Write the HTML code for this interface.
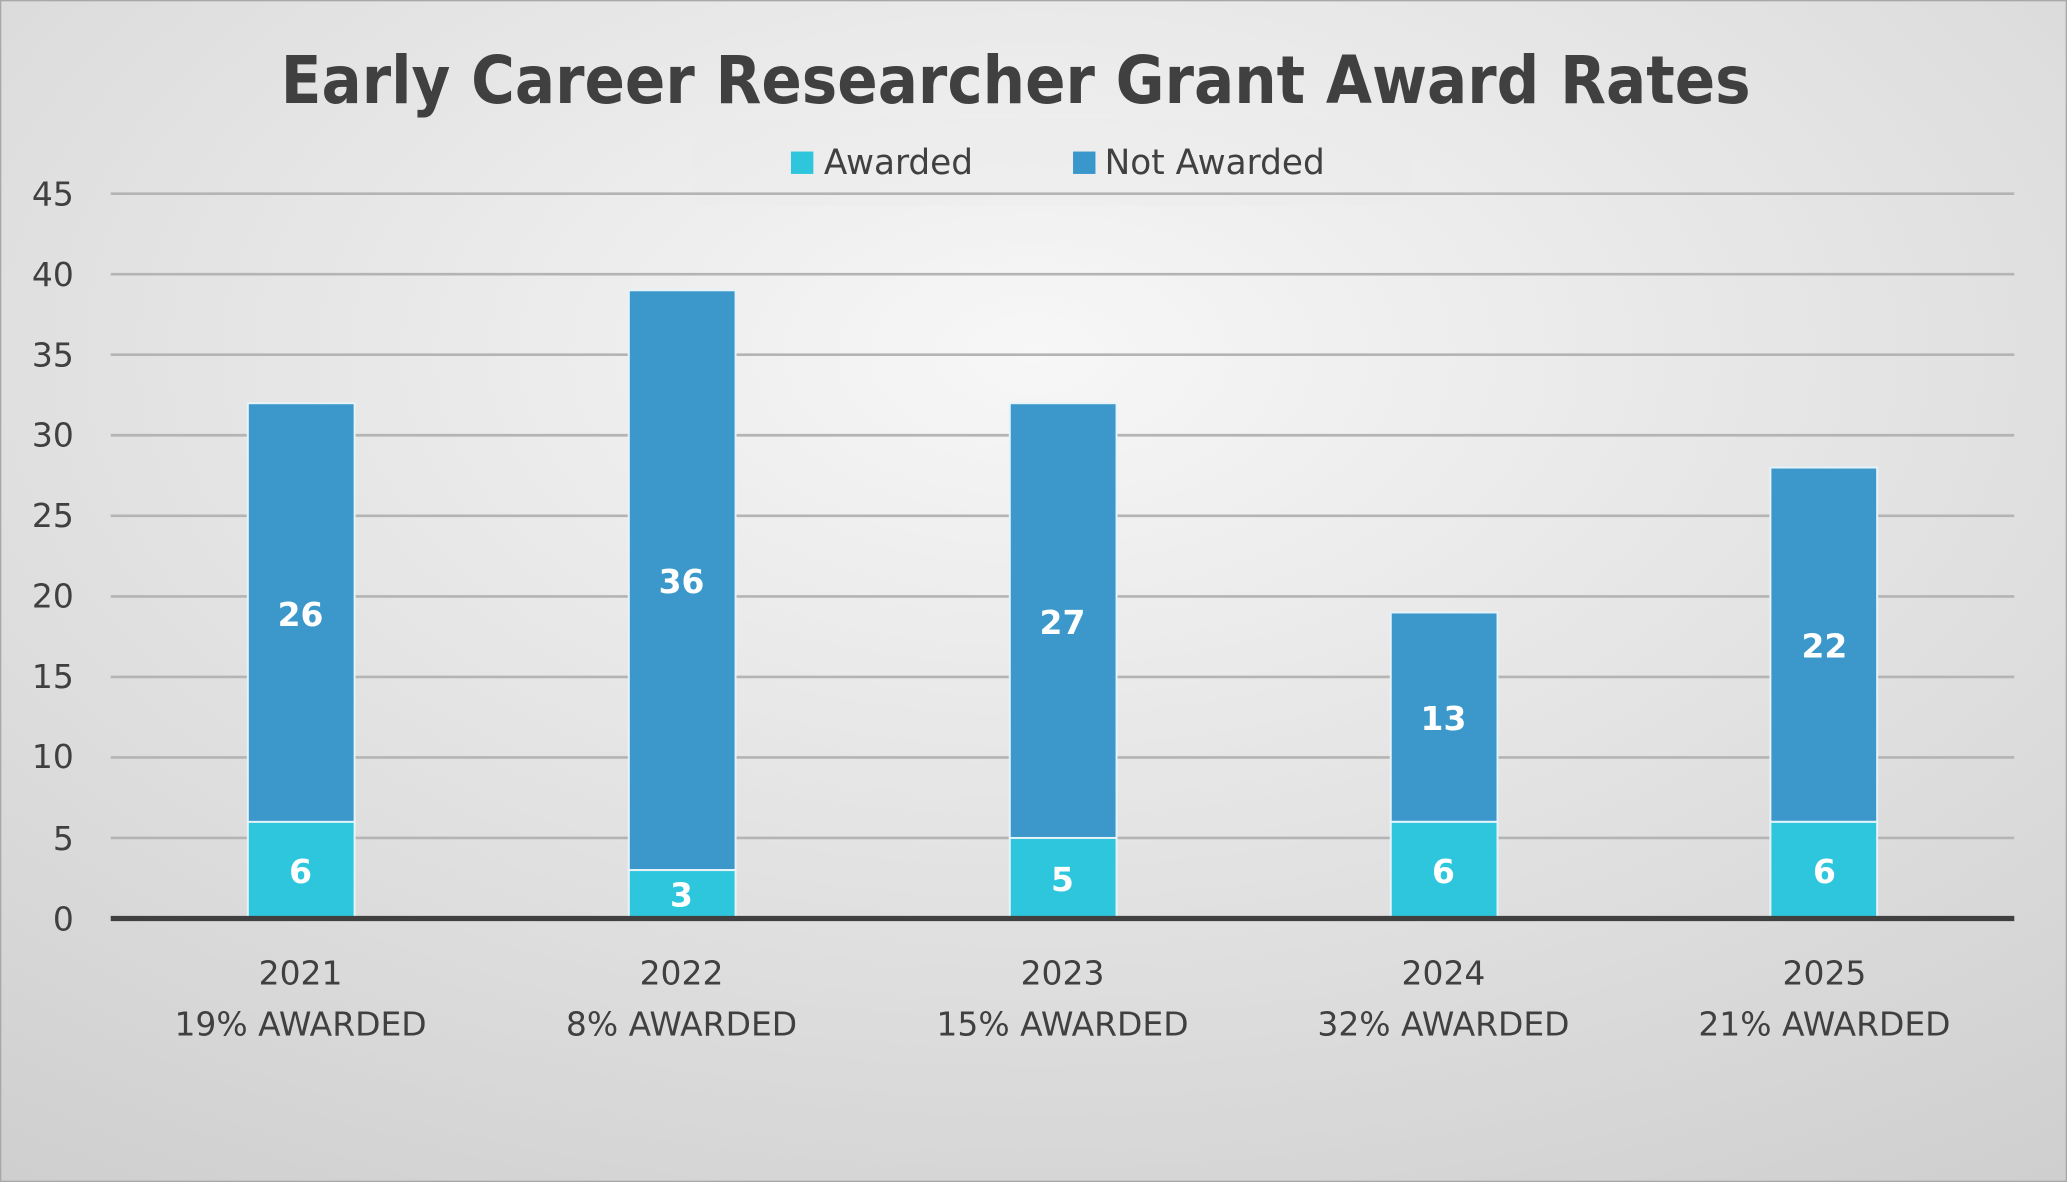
<!DOCTYPE html>
<html><head><meta charset="utf-8"><style>
html,body{margin:0;padding:0;}
body{width:2067px;height:1182px;overflow:hidden;}
svg{display:block;}
text{font-family:"DejaVu Sans","Liberation Sans",sans-serif;}
</style></head><body>
<svg width="2067" height="1182" viewBox="0 0 1568 897" preserveAspectRatio="none" xmlns="http://www.w3.org/2000/svg">
<defs>
<radialGradient id="bg" cx="0.5" cy="0.3" r="0.85">
<stop offset="0" stop-color="#f7f7f7"/>
<stop offset="1" stop-color="#cfcfcf"/>
</radialGradient>
</defs>
<rect x="0" y="0" width="1568" height="897" fill="url(#bg)" stroke="#a8a8a8" stroke-width="2"/>
<text x="213" y="78" font-size="50" font-weight="bold" fill="#404040" textLength="1115" lengthAdjust="spacingAndGlyphs">Early Career Researcher Grant Award Rates</text>
<rect x="524" y="90" width="546" height="66" fill="#ececec" opacity="0.35"/>
<rect x="600" y="115" width="17" height="17" fill="#2ec6dd"/>
<text x="625" y="132" font-size="26" fill="#404040">Awarded</text>
<rect x="814" y="115" width="17" height="17" fill="#3a97cb"/>
<text x="838" y="132" font-size="26" fill="#404040">Not Awarded</text>
<g stroke="#b4b4b4" stroke-width="2">
<line x1="84" x2="1528" y1="147" y2="147"/>
<line x1="84" x2="1528" y1="208.1" y2="208.1"/>
<line x1="84" x2="1528" y1="269.2" y2="269.2"/>
<line x1="84" x2="1528" y1="330.3" y2="330.3"/>
<line x1="84" x2="1528" y1="391.4" y2="391.4"/>
<line x1="84" x2="1528" y1="452.6" y2="452.6"/>
<line x1="84" x2="1528" y1="513.7" y2="513.7"/>
<line x1="84" x2="1528" y1="574.8" y2="574.8"/>
<line x1="84" x2="1528" y1="635.9" y2="635.9"/>
</g>
<g font-size="25" fill="#404040" text-anchor="end">
<text x="56" y="156">45</text><text x="56" y="217">40</text><text x="56" y="278">35</text>
<text x="56" y="339">30</text><text x="56" y="400">25</text><text x="56" y="461">20</text>
<text x="56" y="522">15</text><text x="56" y="583">10</text><text x="56" y="645">5</text>
<text x="56" y="706">0</text>
</g>
<g stroke="#e6f4fa" stroke-width="1.5">
<rect x="188" y="306.0" width="81" height="317.8" fill="#3c98ca"/>
<rect x="188" y="623.7" width="81" height="73.3" fill="#2ec6dd"/>
<rect x="477" y="220.3" width="81" height="440.0" fill="#3c98ca"/>
<rect x="477" y="660.3" width="81" height="36.7" fill="#2ec6dd"/>
<rect x="766" y="306.0" width="81" height="330.0" fill="#3c98ca"/>
<rect x="766" y="635.9" width="81" height="61.1" fill="#2ec6dd"/>
<rect x="1055" y="464.8" width="81" height="158.9" fill="#3c98ca"/>
<rect x="1055" y="623.7" width="81" height="73.3" fill="#2ec6dd"/>
<rect x="1343" y="354.8" width="81" height="268.9" fill="#3c98ca"/>
<rect x="1343" y="623.7" width="81" height="73.3" fill="#2ec6dd"/>
</g>
<line x1="84" x2="1528" y1="697" y2="697" stroke="#404040" stroke-width="4"/>
<g font-size="25" font-weight="bold" fill="#ffffff" text-anchor="middle">
<text x="228" y="475">26</text><text x="228" y="670">6</text>
<text x="517" y="450">36</text><text x="517" y="688">3</text>
<text x="806" y="481">27</text><text x="806" y="676">5</text>
<text x="1095" y="554">13</text><text x="1095" y="670">6</text>
<text x="1384" y="499">22</text><text x="1384" y="670">6</text>
</g>
<g font-size="25" fill="#404040" text-anchor="middle">
<text x="228" y="747">2021</text><text x="228" y="786">19% AWARDED</text>
<text x="517" y="747">2022</text><text x="517" y="786">8% AWARDED</text>
<text x="806" y="747">2023</text><text x="806" y="786">15% AWARDED</text>
<text x="1095" y="747">2024</text><text x="1095" y="786">32% AWARDED</text>
<text x="1384" y="747">2025</text><text x="1384" y="786">21% AWARDED</text>
</g>
</svg>
</body></html>
